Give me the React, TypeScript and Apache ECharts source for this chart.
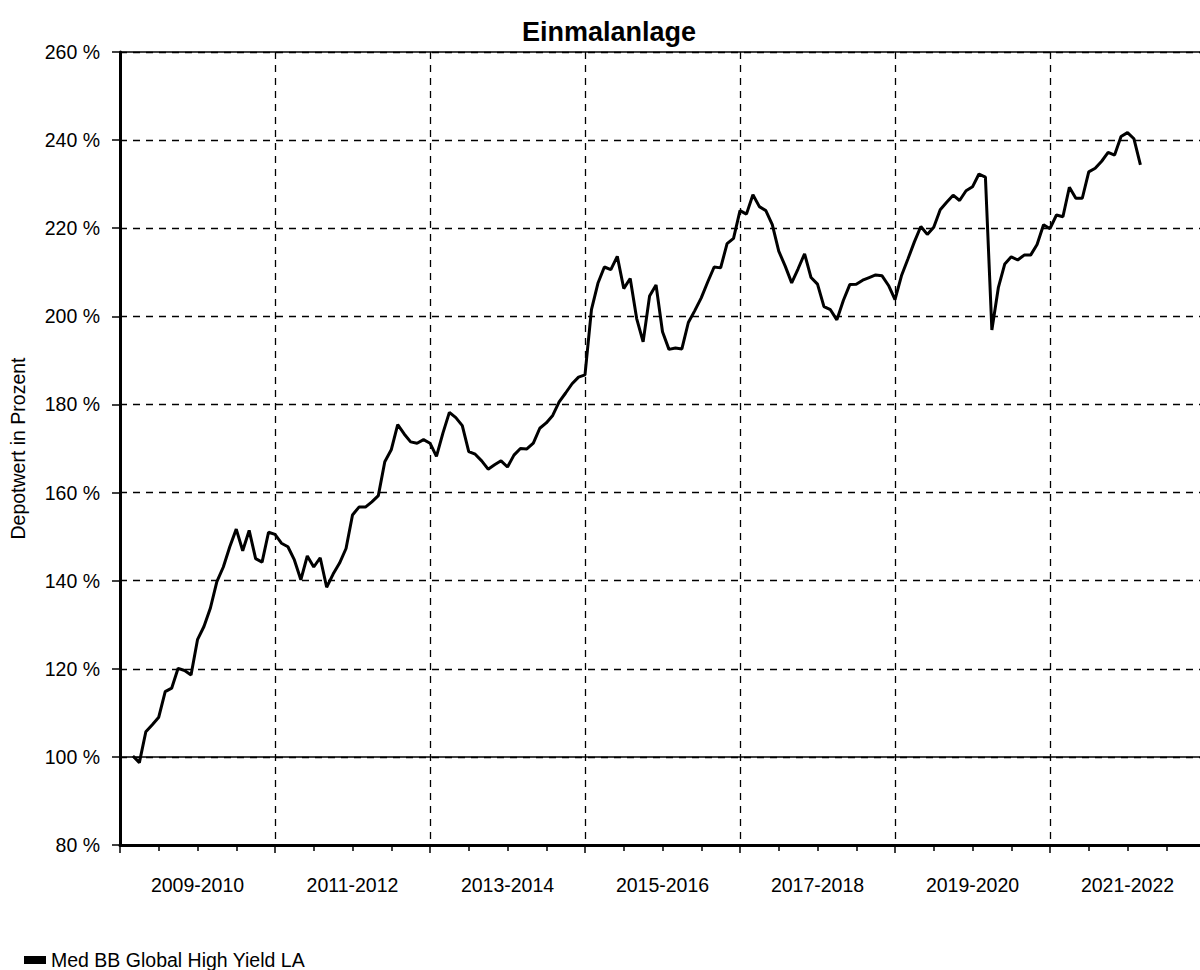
import React, { useEffect, useRef } from "react";
import * as echarts from "echarts";

const titleText = "Einmalanlage";
const yAxisName = "Depotwert in Prozent";
const seriesName = "Med BB Global High Yield LA";
const periodLabels = ["2009-2010", "2011-2012", "2013-2014", "2015-2016", "2017-2018", "2019-2020", "2021-2022"];
// month index (0 = Jan 2009) of the first value
const firstMonthIndex = 2;
const totalMonths = 168;
const values = [
  100.2, 98.7, 105.7, 107.3, 109.0, 114.8, 115.6, 120.1, 119.6, 118.6,
  126.6, 129.6, 133.8, 139.8, 143.1, 147.7, 151.7, 146.8, 151.4, 145.0,
  144.2, 151.0, 150.5, 148.5, 147.7, 144.7, 140.2, 145.6, 143.1, 145.2,
  138.5, 141.5, 144.0, 147.3, 154.9, 156.7, 156.7, 157.9, 159.3, 167.0,
  169.7, 175.4, 173.3, 171.5, 171.2, 172.0, 171.2, 168.2, 173.5, 178.2,
  177.0, 175.2, 169.3, 168.7, 167.2, 165.3, 166.3, 167.2, 165.8, 168.5,
  170.0, 169.9, 171.2, 174.6, 175.8, 177.5, 180.6, 182.6, 184.7, 186.2,
  186.7, 201.5, 207.5, 211.2, 210.6, 213.6, 206.3, 208.6, 199.5, 194.2,
  204.6, 207.1, 196.5, 192.5, 192.8, 192.6, 198.6, 201.3, 204.2, 207.8,
  211.2, 211.0, 216.5, 217.7, 224.0, 223.2, 227.6, 224.9, 224.0, 220.8,
  214.8, 211.4, 207.6, 210.8, 214.2, 208.8, 207.3, 202.2, 201.5, 199.2,
  203.6, 207.2, 207.3, 208.2, 208.8, 209.4, 209.2, 207.0, 203.8, 209.2,
  213.0, 216.9, 220.4, 218.6, 220.2, 224.2, 225.9, 227.5, 226.3, 228.5,
  229.4, 232.3, 231.6, 196.9, 206.5, 211.9, 213.5, 212.8, 213.9, 213.9,
  216.3, 220.8, 219.9, 223.0, 222.6, 229.3, 226.8, 226.8, 232.8, 233.6,
  235.2, 237.2, 236.6, 240.8, 241.7, 240.3, 234.4,
];
const yMin = 80;
const yMax = 260;
const yStep = 20;

const FONT = "'Liberation Sans', Arial, sans-serif";

export default function App() {
  const ref = useRef<HTMLDivElement>(null);

  useEffect(() => {
    if (!ref.current) return;
    const chart = echarts.init(ref.current, undefined, { renderer: "svg" });
    const data = values.map((v, i) => [firstMonthIndex + i, v]);

    chart.setOption({
      animation: false,
      backgroundColor: "#ffffff",
      textStyle: { fontFamily: FONT, color: "#000" },
      title: {
        text: titleText,
        left: 604,
        textAlign: "center",
        top: 13,
        textStyle: { fontFamily: FONT, fontWeight: "bold", fontSize: 27, color: "#000" },
      },
      legend: {
        show: true,
        left: 19,
        top: 945,
        icon: "rect",
        itemWidth: 22,
        itemHeight: 8,
        textStyle: { fontFamily: FONT, fontSize: 19.5, color: "#000" },
        data: [seriesName],
      },
      grid: {
        left: 120,
        right: -5,
        top: 52,
        bottom: 125,
        containLabel: false,
        outerBoundsMode: "none",
      },
      xAxis: [
        {
          type: "value",
          position: "bottom",
          min: 0,
          max: totalMonths,
          interval: 24,
          axisLine: { show: true, lineStyle: { color: "#000", width: 3 } },
          axisTick: { show: true, length: 8, lineStyle: { color: "#000", width: 1.5 } },
          minorTick: { show: true, splitNumber: 4, length: 6, lineStyle: { color: "#000", width: 1.5 } },
          axisLabel: { show: false },
          splitLine: { show: true, lineStyle: { color: "#000", type: [7, 6], width: 1.3 } },
        },
        {
          type: "value",
          position: "bottom",
          offset: 0,
          min: 0,
          max: totalMonths,
          interval: 12,
          axisLine: { show: false },
          axisTick: { show: false },
          splitLine: { show: false },
          axisLabel: {
            show: true,
            margin: 30,
            fontFamily: FONT,
            fontSize: 19.5,
            color: "#000",
            formatter: (v: number) => {
              if (v % 24 !== 12) return "";
              const idx = (v - 12) / 24;
              return periodLabels[idx] ?? "";
            },
          },
        },
      ],
      yAxis: {
        type: "value",
        min: yMin,
        max: yMax,
        interval: yStep,
        name: yAxisName,
        nameLocation: "middle",
        nameRotate: 90,
        nameGap: 92,
        nameTextStyle: { fontFamily: FONT, fontSize: 19.5, color: "#000" },
        axisLine: { show: true, lineStyle: { color: "#000", width: 3 } },
        axisTick: { show: true, length: 8, lineStyle: { color: "#000", width: 1.5 } },
        axisLabel: {
          margin: 20,
          fontFamily: FONT,
          fontSize: 19.5,
          color: "#000",
          formatter: "{value} %",
        },
        splitLine: { show: true, lineStyle: { color: "#000", type: [7, 6], width: 1.3 } },
      },
      series: [
        {
          name: seriesName,
          type: "line",
          xAxisIndex: 0,
          data,
          symbol: "none",
          smooth: false,
          color: "#000",
          lineStyle: { color: "#000", width: 3 },
          z: 5,
          markLine: {
            silent: true,
            symbol: "none",
            label: { show: false },
            lineStyle: { color: "#000", width: 1.5, type: "solid" },
            data: [{ yAxis: 100 }, { yAxis: yMax }],
          },
        },
      ],
    });

    return () => chart.dispose();
  }, []);

  return (
    <div
      ref={ref}
      style={{ position: "absolute", left: 0, top: 0, width: 1200, height: 970 }}
    />
  );
}
